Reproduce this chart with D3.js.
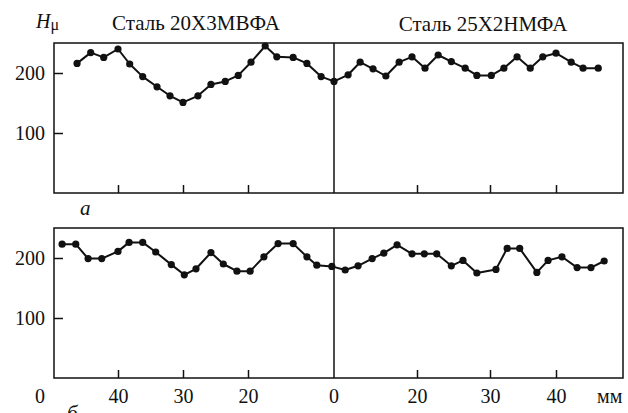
<!DOCTYPE html>
<meta charset="utf-8">
<style>
body { margin: 0; background: #fff; }
.frame { fill: none; stroke: #111; stroke-width: 1.5px; }
.curve { fill: none; stroke: #111; stroke-width: 2px; stroke-linejoin: round; }
.dot { fill: #111; }
.tick line { stroke: #111; stroke-width: 1.5px; }
</style>
<body>
<script src="https://d3js.org/d3.v7.min.js"></script>
<script>
var width = 628,
    height = 413;

// distances from the joint, mm
var tickMm = [20, 30, 40];
var hTicks = [100, 200];
var steels = ["Сталь 20Х3МВФА", "Сталь 25Х2НМФА"];

// panel a
var aLeftMm = [46.3, 44.2, 42.2, 40, 38.2, 36.2, 34.0, 32.0, 30, 27.7, 25.7, 23.5, 21.5, 19.3, 16.0, 13.3, 9.5, 6.3, 3.0, 0];
var aLeftH  = [216, 234, 226, 240, 215, 194, 177, 162, 151, 162, 181, 186, 196, 218, 245, 227, 226, 216, 194, 186];
var aRightMm = [3.4, 6.3, 9.4, 12.5, 15.7, 18.8, 21.1, 22.9, 24.7, 26.6, 28.2, 30.2, 32.1, 34.1, 36.1, 38.0, 40, 42.3, 44.1, 46.4];
var aRightH  = [197, 218, 207, 195, 218, 227, 208, 230, 219, 208, 196, 196, 208, 227, 208, 227, 233, 218, 208, 208];

// panel б
var bLeftMm = [48.6, 46.5, 44.6, 42.5, 40, 38.3, 36.2, 34.2, 31.8, 29.8, 28.0, 25.7, 23.8, 21.7, 19.5, 16.3, 13.0, 9.5, 6.3, 4.0, 0.5];
var bLeftH  = [223, 223, 199, 199, 211, 226, 226, 210, 189, 172, 182, 209, 190, 178, 178, 202, 224, 224, 202, 188, 186];
var bRightMm = [2.7, 5.8, 9.2, 12.0, 15.2, 18.8, 21.0, 22.7, 24.7, 26.3, 28.2, 30.9, 32.6, 34.5, 37.1, 38.8, 40.9, 43.2, 45.3, 47.3];
var bRightH  = [180, 187, 199, 208, 222, 207, 207, 207, 187, 196, 175, 181, 216, 216, 176, 196, 202, 184, 184, 195];

var x0 = 54, x1 = 623, xJoint = 334;
var serif = "'Liberation Serif', 'Times New Roman', serif";
var fs = "20px";

// the printed mm axis is not uniform, so each half gets a piecewise scale
var xL = d3.scaleLinear().domain([0, 20, 30, 40]).range([xJoint, 248, 183, 118]);
var xR = d3.scaleLinear().domain([0, 20, 30, 40]).range([xJoint, 417, 490, 556]);

var svg = d3.select("body").append("svg")
    .attr("width", width)
    .attr("height", height)
    .style("font-family", serif);

function pts(mm, h, side) {
  return mm.map(function(d, i) { return {mm: d, h: h[i], side: side}; });
}

function label(x, y, size, txt) {
  return svg.append("text").attr("x", x).attr("y", y)
    .style("font-family", serif).style("font-size", size).style("fill", "#111")
    .text(txt);
}

var panels = [
  {top: 43, bottom: 193, data: pts(aLeftMm, aLeftH, "L").concat(pts(aRightMm, aRightH, "R")), labels: false},
  {top: 228, bottom: 378, data: pts(bLeftMm, bLeftH, "L").concat(pts(bRightMm, bRightH, "R")), labels: true}
];

panels.forEach(function(p) {
  var y = d3.scaleLinear().domain([0, 250]).range([p.bottom, p.top]);
  var g = svg.append("g");
  var px = function(d) { return d.side == "L" ? xL(d.mm) : xR(d.mm); };

  g.append("rect").attr("class", "frame")
    .attr("x", x0).attr("y", p.top)
    .attr("width", x1 - x0).attr("height", p.bottom - p.top);
  g.append("line").attr("class", "frame")
    .attr("x1", xJoint).attr("x2", xJoint)
    .attr("y1", p.top).attr("y2", p.bottom);

  var ya = g.append("g")
      .attr("transform", "translate(" + x0 + ",0)")
      .call(d3.axisLeft(y).tickValues(hTicks).tickSizeInner(-9).tickSizeOuter(0).tickPadding(9));
  ya.select(".domain").remove();
  ya.selectAll("text")
    .style("font-family", serif).style("font-size", fs).style("fill", "#111")
    .attr("dy", "0.34em");

  [xL, xR].forEach(function(sc) {
    var xa = g.append("g")
        .attr("transform", "translate(0," + p.bottom + ")")
        .call(d3.axisBottom(sc).tickValues(tickMm).tickSizeInner(-8).tickSizeOuter(0).tickPadding(11));
    xa.select(".domain").remove();
    if (p.labels) xa.selectAll("text").style("font-family", serif).style("font-size", fs).style("fill", "#111");
    else xa.selectAll("text").remove();
  });

  g.append("path").datum(p.data).attr("class", "curve")
    .attr("d", d3.line().x(px).y(function(d) { return y(d.h); }));
  g.selectAll(".dot").data(p.data).enter().append("circle")
    .attr("class", "dot")
    .attr("cx", px).attr("cy", function(d) { return y(d.h); })
    .attr("r", 3.6);
});

// titles
label(196, 30, "21px", steels[0]).attr("text-anchor", "middle");
label(483, 31, "21px", steels[1]).attr("text-anchor", "middle");

var hl = label(36, 28, fs, null);
hl.append("tspan").style("font-style", "italic").text("H");
hl.append("tspan").attr("dy", 2).style("font-size", "16px").text("μ");

// bottom axis extras
label(40, 403, fs, "0").attr("text-anchor", "middle");
label(xJoint, 403, fs, "0").attr("text-anchor", "middle");
label(597, 403, fs, "мм");

label(80, 215, "21px", "а").style("font-style", "italic");
label(67, 420, "21px", "б").style("font-style", "italic");
</script>
</body>
</html>
